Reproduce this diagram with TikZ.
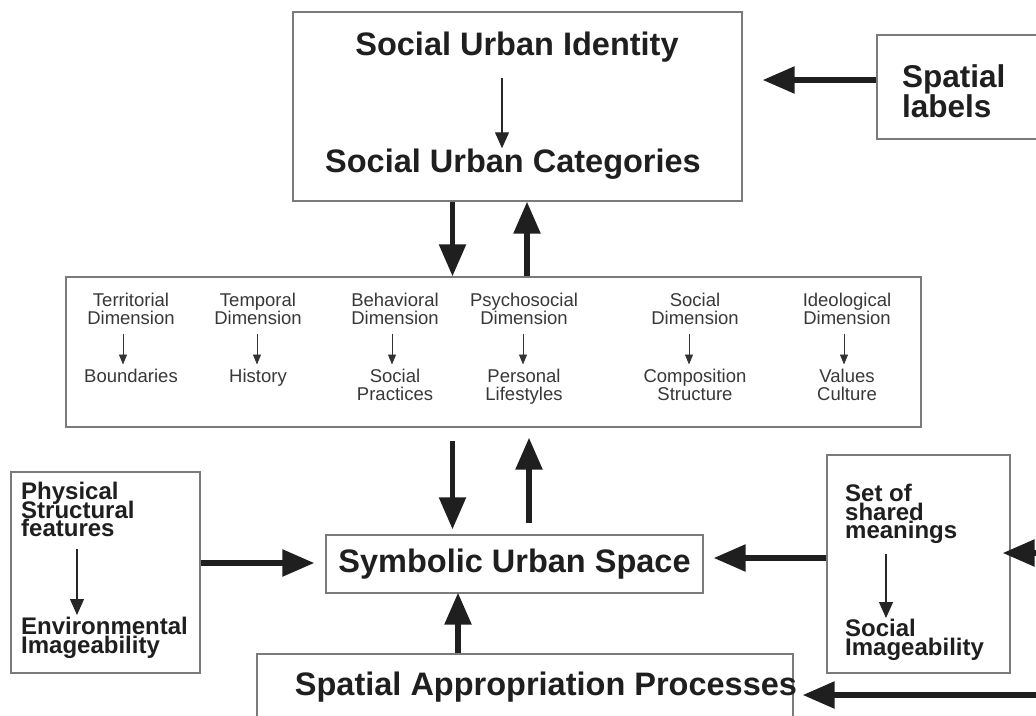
\documentclass[tikz,border=0pt]{standalone}
\usepackage{fontspec}
\setmainfont{Liberation Sans}
\usetikzlibrary{arrows.meta}
\lineskiplimit=-100pt
\begin{document}
\begin{tikzpicture}[x=1pt,y=-1pt,
  box/.style={draw=black!52, line width=1.3pt, inner sep=0pt, rectangle},
  bigarr/.style={line width=5.5pt, draw=black!88, -{Triangle[length=32pt,width=26pt]}},
  thinarr/.style={line width=1.2pt, draw=black!85, -{Triangle[length=16pt,width=14pt]}},
  smallarr/.style={line width=0.9pt, draw=black!80, -{Triangle[length=10pt,width=8pt]}},
  bigtxt/.style={font=\bfseries\fontsize{32.5}{34}\selectfont, text=black!88, inner sep=0pt},
  midtxt/.style={font=\fontsize{18.5}{18}\selectfont, text=black!78, inner sep=0pt, align=center, anchor=north},
  sidetxt/.style={font=\bfseries\fontsize{24}{18.5}\selectfont, text=black!88, inner sep=0pt, align=left, anchor=north west},
]
\fill[white] (0,0) rectangle (1036,715);
\clip (0,0) rectangle (1036,715);

% boxes
\node[box, minimum width=449pt, minimum height=189pt] (top) at (517.5,106.5) {};
\node[box, minimum width=186pt, minimum height=104pt] (sl) at (970,87) {};
\node[box, minimum width=855pt, minimum height=150pt] (mid) at (493.5,352) {};
\node[box, minimum width=189pt, minimum height=201pt] (phys) at (105.5,572.5) {};
\node[box, minimum width=377pt, minimum height=58pt, bigtxt] (sym) at (514.5,564) {Symbolic Urban Space};
\node[box, minimum width=183pt, minimum height=218pt] (setb) at (918.5,564) {};
\node[box, minimum width=536pt, minimum height=92pt] (spa) at (525,700) {};

% texts
\node[bigtxt, anchor=base] (sui) at (517,55) {Social Urban Identity};
\node[bigtxt, anchor=base] (suc) at (513,172) {Social Urban Categories};
\node[font=\bfseries\fontsize{31.5}{30}\selectfont, text=black!88, inner sep=0pt, align=left, anchor=north west] (slt) at (902,64) {Spatial\\labels};
\node[bigtxt, anchor=base] (spat) at (546,695) {Spatial Appropriation Processes};

\node[sidetxt] (ph1) at (21,482) {Physical\\Structural\\features};
\node[sidetxt] (ph2) at (21,617) {Environmental\\Imageability};
\node[sidetxt] (st1) at (845,484) {Set of\\shared\\meanings};
\node[sidetxt] (st2) at (845,619) {Social\\Imageability};

% middle box columns
\node[midtxt] (d1) at (131,293) {Territorial\\Dimension};
\node[midtxt] (d2) at (258,293) {Temporal\\Dimension};
\node[midtxt] (d3) at (395,293) {Behavioral\\Dimension};
\node[midtxt] (d4) at (524,293) {Psychosocial\\Dimension};
\node[midtxt] (d5) at (695,293) {Social\\Dimension};
\node[midtxt] (d6) at (847,293) {Ideological\\Dimension};
\node[midtxt] (r1) at (131,369) {Boundaries};
\node[midtxt] (r2) at (258,369) {History};
\node[midtxt] (r3) at (395,369) {Social\\Practices};
\node[midtxt] (r4) at (524,369) {Personal\\Lifestyles};
\node[midtxt] (r5) at (695,369) {Composition\\Structure};
\node[midtxt] (r6) at (847,369) {Values\\Culture};

\draw[smallarr, shorten <=9pt, shorten >=4.5pt] ([xshift=-8pt]d1.south) -- ([xshift=-8pt]r1.north);
\draw[smallarr, shorten <=9pt, shorten >=4.5pt] ([xshift=-1pt]d2.south) -- ([xshift=-1pt]r2.north);
\draw[smallarr, shorten <=9pt, shorten >=4.5pt] ([xshift=-3pt]d3.south) -- ([xshift=-3pt]r3.north);
\draw[smallarr, shorten <=9pt, shorten >=4.5pt] ([xshift=-1pt]d4.south) -- ([xshift=-1pt]r4.north);
\draw[smallarr, shorten <=9pt, shorten >=4.5pt] ([xshift=-6pt]d5.south) -- ([xshift=-6pt]r5.north);
\draw[smallarr, shorten <=9pt, shorten >=4.5pt] ([xshift=-3pt]d6.south) -- ([xshift=-3pt]r6.north);

% helper coordinates
\coordinate (xt) at (502,0);
\coordinate (xa) at (452.5,0);
\coordinate (xb) at (527,0);
\coordinate (xc) at (529,0);
\coordinate (xd) at (458,0);
\coordinate (xp) at (77,0);
\coordinate (xs) at (886,0);
\coordinate (y80) at (0,80);
\coordinate (y563) at (0,563);
\coordinate (y558) at (0,558);
\coordinate (r1e) at (1050,553);
\coordinate (r2e) at (1050,695);

% thin inner arrows
\draw[thinarr, shorten <=16pt] (sui.south -| xt) -- (suc.north -| xt);
\draw[thinarr, shorten <=11.5pt, shorten >=2pt] (ph1.south -| xp) -- (ph2.north -| xp);
\draw[thinarr, shorten <=10.5pt, shorten >=1pt] (st1.south -| xs) -- (st2.north -| xs);

% thick arrows
\draw[bigarr, shorten >=20pt] (sl.west |- y80) -- (top.east |- y80);
\draw[bigarr] (top.south -| xa) -- (mid.north -| xa);
\draw[bigarr] (mid.north -| xb) -- (top.south -| xb);
\draw[bigarr, shorten <=13pt, shorten >=5pt] (mid.south -| xa) -- (sym.north -| xa);
\draw[bigarr, shorten <=11pt, shorten >=10pt] (sym.north -| xc) -- (mid.south -| xc);
\draw[bigarr, shorten >=-1pt] (spa.north -| xd) -- (sym.south -| xd);
\draw[bigarr, shorten >=11pt] (phys.east |- y563) -- (sym.west |- y563);
\draw[bigarr, shorten >=10pt] (setb.west |- y558) -- (sym.east |- y558);
\draw[bigarr, shorten >=-8pt] (r1e) -- (r1e -| setb.east);
\draw[bigarr, shorten >=9pt] (r2e) -- (r2e -| spa.east);
\end{tikzpicture}
\end{document}
